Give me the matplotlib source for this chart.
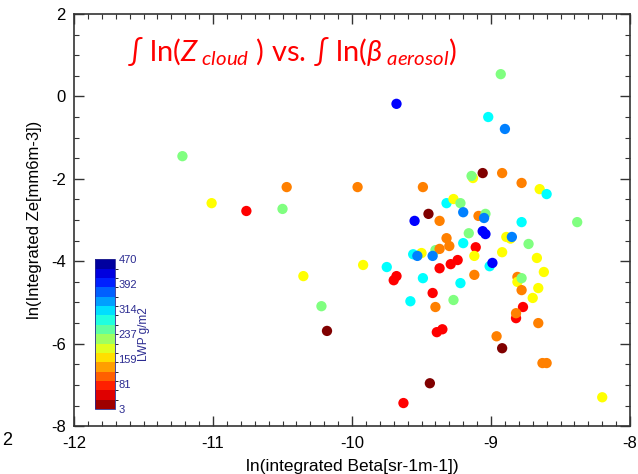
import numpy as np
import matplotlib
matplotlib.use('Agg')
import matplotlib.pyplot as plt
from matplotlib.colors import ListedColormap, BoundaryNorm, Normalize
from matplotlib.cm import ScalarMappable
from matplotlib.ticker import MultipleLocator

plt.rcParams['font.family'] = ['Liberation Sans', 'DejaVu Sans']
plt.rcParams['axes.unicode_minus'] = False

# ln(integrated beta), ln(integrated Ze), LWP (g/m2)
beta = [-11.22, -10.47, -11.01, -10.76, -10.50, -10.35, -9.96, -9.49, -9.13, -9.14,
        -9.06, -8.92, -8.78, -8.65, -8.60, -8.93, -9.68, -9.02, -8.90, -9.32,
        -9.27, -9.22, -9.45, -9.20, -9.55, -9.37, -9.09, -9.04, -9.05, -8.78,
        -8.38, -9.06, -9.04, -9.16, -9.32, -9.30, -9.40, -9.37, -9.20, -8.89,
        -8.86, -8.85, -8.73, -9.11, -8.92, -9.12, -9.56, -9.50, -9.53, -9.42,
        -9.24, -9.29, -9.37, -9.01, -8.99, -8.67, -9.92, -9.75, -9.68, -9.70,
        -9.49, -9.12, -8.62, -8.81, -8.81, -8.78, -8.78, -8.66, -8.70, -9.22,
        -9.42, -10.22, -9.58, -9.27, -9.40, -8.77, -8.82, -8.82, -8.66, -10.18,
        -9.39, -9.35, -8.96, -8.92, -8.63, -8.60, -9.44, -9.63, -8.20]
ze = [-1.45, -2.20, -2.59, -2.78, -2.73, -4.36, -2.20, -2.20, -1.98, -1.93,
      -1.86, -1.86, -2.10, -2.25, -2.37, 0.54, -0.18, -0.50, -0.79, -2.59,
      -2.49, -2.59, -2.85, -2.81, -3.02, -3.02, -2.90, -2.85, -2.95, -3.05,
      -3.05, -3.27, -3.34, -3.32, -3.44, -3.63, -3.73, -3.70, -3.56, -3.41,
      -3.45, -3.41, -3.58, -3.66, -3.78, -3.87, -3.83, -3.80, -3.87, -3.87,
      -3.97, -4.07, -4.17, -4.12, -4.04, -3.92, -4.09, -4.14, -4.36, -4.46,
      -4.41, -4.33, -4.26, -4.38, -4.50, -4.41, -4.70, -4.65, -4.89, -4.53,
      -4.77, -5.09, -4.97, -4.94, -5.11, -5.11, -5.38, -5.26, -5.50, -5.69,
      -5.72, -5.65, -5.82, -6.11, -6.47, -6.47, -6.96, -7.44, -7.30]
lwp = [236, 133, 185, 81, 236, 185, 133, 133, 185, 236,
       29, 133, 133, 185, 288, 236, 392, 288, 340, 288,
       185, 236, 29, 340, 392, 133, 133, 236, 340, 288,
       236, 392, 392, 236, 133, 133, 236, 133, 288, 185,
       185, 340, 236, 81, 185, 185, 288, 185, 340, 340,
       81, 81, 81, 288, 392, 185, 185, 288, 81, 81,
       288, 133, 185, 133, 185, 236, 133, 185, 185, 288,
       81, 236, 288, 236, 133, 81, 81, 133, 133, 29,
       81, 81, 133, 29, 133, 133, 29, 81, 185]

lwp_ticks = [3, 81, 159, 237, 314, 392, 470]


def idl_jet(x):
    x = np.asarray(x)
    r = np.clip(1.5 - np.abs(4 * x - 3), 0, 1)
    g = np.clip(1.5 - np.abs(4 * x - 2), 0, 1)
    b = np.clip(1.5 - np.abs(4 * x - 1), 0, 1)
    return np.stack([r, g, b], axis=1)


dot_cmap = ListedColormap(idl_jet(1 - np.linspace(0, 1, 9)))
bar_cmap = ListedColormap(idl_jet(1 - (np.arange(16) + 0.5) / 16))

fig = plt.figure(figsize=(6.38, 4.74), dpi=100)
ax = fig.add_axes([0.116, 0.101, 0.8715, 0.8695])

ax.scatter(beta, ze, c=lwp, cmap=dot_cmap, norm=Normalize(3, 470),
           s=55, edgecolors='none', zorder=3)

ax.set_xlim(-12, -8)
ax.set_ylim(-8, 2)
ax.xaxis.set_major_locator(MultipleLocator(1))
ax.xaxis.set_minor_locator(MultipleLocator(0.1))
ax.yaxis.set_major_locator(MultipleLocator(2))
ax.yaxis.set_minor_locator(MultipleLocator(0.5))
ax.tick_params(which='both', direction='in', top=True, right=True,
               color='#333333', labelsize=12)
ax.tick_params(which='major', length=7, width=1.0)
ax.tick_params(which='minor', length=3.5, width=0.8)
ax.tick_params(axis='x', pad=7)
ax.tick_params(axis='y', pad=6)
for sp in ax.spines.values():
    sp.set_color('#333333')
    sp.set_linewidth(1.2)

ax.set_xlabel('ln(integrated Beta[sr-1m-1])', fontsize=12.5, va='center')
ax.set_ylabel('ln(Integrated Ze[mm6m-3])', fontsize=12, va='center')
ax.xaxis.set_label_coords(0.5, -0.097)
ax.yaxis.set_label_coords(-0.071, 0.5)

# title as on the slide
plt.rcParams['mathtext.fontset'] = 'custom'
plt.rcParams['mathtext.rm'] = 'Lato'
plt.rcParams['mathtext.it'] = 'Lato:italic'
fig.text(0.457, 0.872, r'∫ ln($Z_{\ cloud}$ ) vs. ∫ ln($\beta_{\ aerosol}$)',
         color='red', fontsize=21, ha='center', va='baseline',
         family=['Lato', 'DejaVu Sans'])

# colour bar inside the plot
navy = '#2a2a90'
cax = fig.add_axes([0.149, 0.137, 0.032, 0.316])
cb = fig.colorbar(ScalarMappable(norm=BoundaryNorm(np.linspace(3, 470, 17), 16), cmap=bar_cmap),
                  cax=cax, ticks=lwp_ticks)
cb.ax.set_yticklabels([str(t) for t in lwp_ticks])
cb.ax.tick_params(length=0, labelcolor=navy, labelsize=8, pad=2)
cb.outline.set_edgecolor(navy)
cb.outline.set_linewidth(0.6)
cb.set_label('LWP g/m2', color=navy, fontsize=8.5, labelpad=1)

# stray label of the neighbouring chart on the slide
fig.text(0.004, 0.07, '2', fontsize=13, ha='left', va='center')

fig.savefig('out.png', dpi=100)
